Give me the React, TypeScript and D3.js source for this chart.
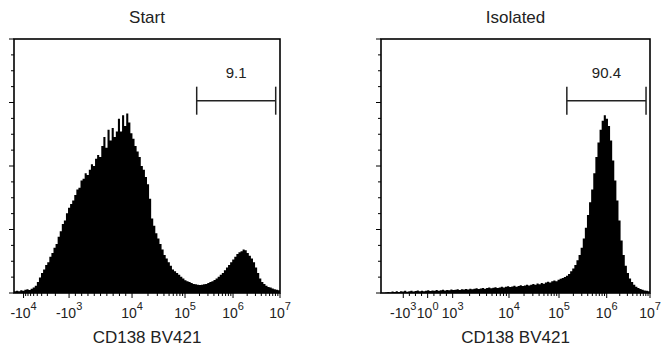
import React from 'react'
import * as d3 from 'd3'

// histogram counts per channel (128 channels)
const startCounts = [
  1, 1.2, 1, 1.5, 1.3, 1.8, 2, 1.7, 2.4, 3,
  4, 6, 8.5, 11, 13, 15.5, 17, 20, 22, 25,
  27, 31, 34, 38, 40, 44, 47, 49, 51, 54,
  57, 58, 62, 63, 66, 65, 68, 71, 70, 74,
  76, 75, 81, 86, 80, 90, 84, 91, 86, 89,
  96, 89, 98, 92, 99, 94, 88, 85, 81, 78,
  75, 70, 68, 64, 60, 52, 41, 37, 33, 30,
  27, 24, 21, 19, 17, 15, 13, 12, 11, 10,
  9, 8, 7, 6.5, 6, 5.5, 5, 4.8, 4.5, 4.4,
  4.5, 4.8, 5, 5.5, 6, 6.5, 7.2, 8, 9, 10,
  11, 12.5, 14, 15.5, 17, 18.5, 20, 21.5, 22.5, 23,
  24, 23.5, 22, 20.5, 19, 17, 14, 11, 8, 6,
  5, 4, 3.3, 3, 2.5, 2, 1.8, 1.5
]
const isolatedCounts = [
  0, 0, 0.3, 0.5, 0.3, 0.8, 0.5, 1, 0.6, 1,
  0.8, 1.2, 0.7, 1, 1.3, 0.8, 1.1, 1.4, 0.9, 1.2,
  1, 1.3, 1.5, 1.1, 1.4, 1.2, 1.6, 1.3, 1.5, 1.8,
  1.4, 1.7, 1.5, 1.9, 1.6, 1.8, 2.1, 1.7, 2, 1.9,
  2.2, 1.9, 2.4, 2.1, 2.3, 2.6, 2.2, 2.5, 2.8, 2.4,
  2.7, 3, 2.6, 2.9, 3.2, 2.8, 3.1, 3.5, 3, 3.4,
  3.7, 3.3, 3.6, 4, 3.5, 3.9, 4.3, 3.8, 4.2, 4.6,
  4.1, 4.5, 5, 4.6, 5.2, 4.8, 5.5, 5.1, 5.8, 6.2,
  5.8, 6.5, 6.9, 6.5, 7.3, 7.8, 8.2, 8.8, 9.5, 10.5,
  12, 13.5, 15.5, 18, 21, 25, 30, 36, 43, 50,
  57, 66, 75, 83, 90, 95, 98, 96, 92, 84,
  73, 62, 51, 40, 29, 21, 15, 11, 8, 6,
  4.5, 3.5, 2.8, 2.2, 1.8, 1.4, 1.2, 1
]

// biexponential axis: tick values and the channel they sit at
const startTickValues = [-1e4, -1e3, 1e4, 1e5, 1e6, 1e7]
const startTickChannels = [4.6, 26.5, 56.8, 82.3, 105.4, 128]
const isolatedTickValues = [-1e3, 1, 1e3, 1e4, 1e5, 1e6, 1e7]
const isolatedTickChannels = [10.6, 22.2, 34.1, 60.9, 84.7, 107.4, 128]

const startGate = [1.75e5, 8.1e6]
const isolatedGate = [1.46e5, 8.1e6]
const gateLabels = ['9.1', '90.4']
const titles = ['Start', 'Isolated']
const xLabel = 'CD138 BV421'

const N_CH = 128
const Y_MAX = 140
const GATE_LEVEL = 106
const FONT = '"Liberation Sans", Arial, Helvetica, sans-serif'

const useLog = (a: number, b: number) =>
  Math.sign(a) === Math.sign(b) && Math.min(Math.abs(a), Math.abs(b)) >= 1000

function makeChannel(vals: number[], chans: number[]) {
  return (v: number) => {
    let i = 0
    while (i < vals.length - 2 && v > vals[i + 1]) i++
    const a = vals[i], b = vals[i + 1]
    let t
    if (useLog(a, b)) {
      t = (Math.log10(Math.abs(v)) - Math.log10(Math.abs(a))) /
        (Math.log10(Math.abs(b)) - Math.log10(Math.abs(a)))
    } else {
      t = (v - a) / (b - a)
    }
    return chans[i] + t * (chans[i + 1] - chans[i])
  }
}

function minorTicks(vals: number[], chans: number[]) {
  const out: number[] = []
  for (let i = 0; i < vals.length - 1; i++) {
    const a = vals[i], b = vals[i + 1]
    if (useLog(a, b)) {
      const lo = Math.min(Math.abs(a), Math.abs(b))
      const n = Math.floor(Math.log10(lo))
      for (let k = 2; k <= 9; k++) out.push(Math.sign(a) * k * Math.pow(10, n))
    } else {
      const steps = Math.max(2, Math.round((chans[i + 1] - chans[i]) / 3))
      for (let j = 1; j < steps; j++) out.push(a + (b - a) * j / steps)
    }
  }
  return out
}

type PanelProps = {
  title: string
  counts: number[]
  tickValues: number[]
  tickChannels: number[]
  gate: number[]
  gateLabel: string
  x0: number
  x1: number
}

const Panel = ({ title, counts, tickValues, tickChannels, gate, gateLabel, x0, x1 }: PanelProps) => {
  const top = 39
  const bottom = 293
  const x = d3.scaleLinear().domain([0, N_CH]).range([x0, x1])
  const y = d3.scaleLinear().domain([0, Y_MAX]).range([bottom, top])
  const chan = makeChannel(tickValues, tickChannels)

  const pts = counts.map((v, i) => ({ i, v }))
  pts.push({ i: N_CH, v: counts[counts.length - 1] })
  const area = d3.area<{ i: number; v: number }>()
    .x(d => x(d.i))
    .y0(y(0))
    .y1(d => y(d.v))
    .curve(d3.curveStepAfter)

  const yTicks = d3.range(0, 17).map(k => (k * Y_MAX) / 16)
  const minors = minorTicks(tickValues, tickChannels)
  const gx0 = x(chan(gate[0]))
  const gx1 = x(chan(gate[1]))
  const gy = y(GATE_LEVEL)

  return (
    <g>
      <text x={(x0 + x1) / 2} y={23} textAnchor="middle" fontSize={17} fontFamily={FONT} fill="#222">{title}</text>
      <path d={area(pts) || ''} fill="#000" />
      {yTicks.map((t, k) => (
        <line key={'y' + k} x1={x0 - (k % 4 === 0 ? 5 : 3)} x2={x0} y1={y(t)} y2={y(t)} stroke="#000" strokeWidth={1} />
      ))}
      {minors.map((v, k) => (
        <line key={'m' + k} x1={x(chan(v))} x2={x(chan(v))} y1={bottom} y2={bottom + 3} stroke="#000" strokeWidth={1} />
      ))}
      {tickValues.map((v, k) => {
        const px = x(tickChannels[k])
        const exp = Math.round(Math.log10(Math.abs(v)))
        return (
          <g key={'t' + k}>
            <line x1={px} x2={px} y1={bottom} y2={bottom + 5} stroke="#000" strokeWidth={1} />
            <text x={px} y={318} textAnchor="middle" fontSize={14} fontFamily={FONT} fill="#222">
              {(v < 0 ? '-' : '') + '10'}
              <tspan dy={-8} fontSize={11}>{exp}</tspan>
            </text>
          </g>
        )
      })}
      <rect x={x0} y={top} width={x1 - x0} height={bottom - top} fill="none" stroke="#000" strokeWidth={1.6} />
      <line x1={gx0} x2={gx1} y1={gy} y2={gy} stroke="#222" strokeWidth={1.5} />
      <line x1={gx0} x2={gx0} y1={gy - 14} y2={gy + 14} stroke="#222" strokeWidth={1.5} />
      <line x1={gx1} x2={gx1} y1={gy - 14} y2={gy + 14} stroke="#222" strokeWidth={1.5} />
      <text x={(gx0 + gx1) / 2} y={78} textAnchor="middle" fontSize={15} fontFamily={FONT} fill="#222">{gateLabel}</text>
      <text x={(x0 + x1) / 2} y={343} textAnchor="middle" fontSize={17} fontFamily={FONT} fill="#222">{xLabel}</text>
    </g>
  )
}

export default function App() {
  return (
    <svg width={662} height={347} style={{ position: 'absolute', left: 0, top: 0, background: '#fff' }}>
      <Panel title={titles[0]} counts={startCounts} tickValues={startTickValues} tickChannels={startTickChannels}
        gate={startGate} gateLabel={gateLabels[0]} x0={14} x1={280} />
      <Panel title={titles[1]} counts={isolatedCounts} tickValues={isolatedTickValues} tickChannels={isolatedTickChannels}
        gate={isolatedGate} gateLabel={gateLabels[1]} x0={381} x1={650} />
    </svg>
  )
}
